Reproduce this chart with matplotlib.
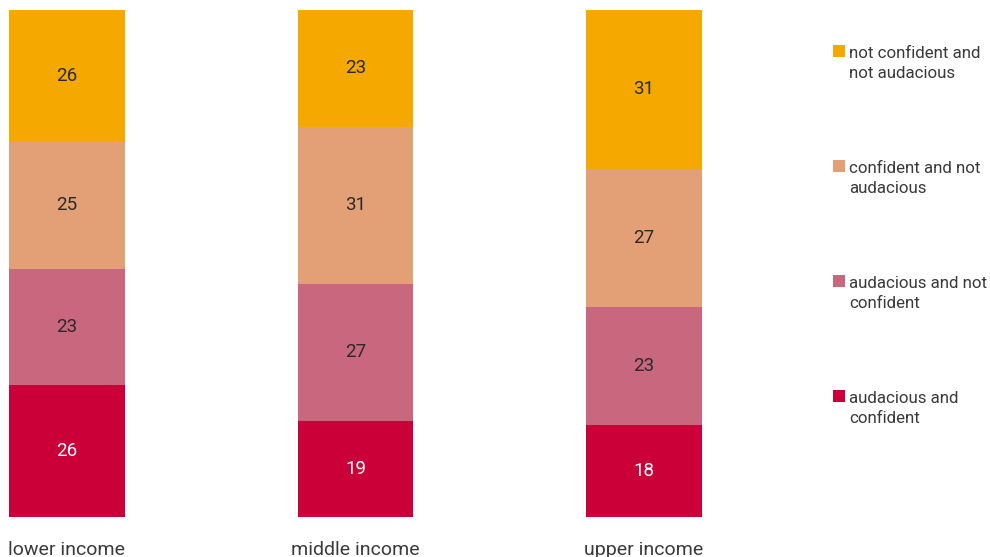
import numpy as np
import matplotlib.pyplot as plt
from matplotlib.patches import Rectangle

plt.rcParams['font.family'] = ['Roboto', 'DejaVu Sans']

groups = ['lower income', 'middle income', 'upper income']
series = ['audacious and\nconfident',
          'audacious and not\nconfident',
          'confident and not\naudacious',
          'not confident and\nnot audacious']
audacious_confident = [26, 19, 18]
audacious_not_confident = [23, 27, 23]
confident_not_audacious = [25, 31, 27]
not_confident_not_audacious = [26, 23, 31]
colors = ['#CC0038', '#C9677F', '#E3A076', '#F5A800']
text_colors = ['white', '#2a2a2a', '#2a2a2a', '#2a2a2a']

values = np.array([audacious_confident, audacious_not_confident,
                   confident_not_audacious, not_confident_not_audacious], dtype=float)
shares = values / values.sum(axis=0) * 100  # every bar fills 100%

fig = plt.figure(figsize=(9.9, 5.57), dpi=100)
W, H = 990, 557
ax = fig.add_axes([9 / W, (H - 517) / H, 693 / W, 507 / H])

x = np.arange(len(groups))
bottom = np.zeros(len(groups))
for i in range(len(series)):
    ax.bar(x, shares[i], bottom=bottom, width=0.402, color=colors[i], linewidth=0)
    for j in range(len(groups)):
        ax.text(x[j], bottom[j] + shares[i][j] / 2, '%d' % values[i][j],
                ha='center', va='center', fontsize=13.5, color=text_colors[i])
    bottom += shares[i]

ax.set_xlim(-0.201, 2.201)
ax.set_ylim(0, 100)
ax.set_xticks(x)
ax.set_xticklabels(groups, fontsize=14, color='#3a3a3a')
ax.tick_params(axis='x', length=0, pad=17)
ax.set_yticks([])
for s in ax.spines.values():
    s.set_visible(False)

# legend, top entry first
for k, i in enumerate(range(len(series) - 1, -1, -1)):
    ytop = 45 + k * 115
    fig.add_artist(Rectangle((833 / W, 1 - (ytop + 12) / H), 12 / W, 12 / H,
                             transform=fig.transFigure, color=colors[i], linewidth=0))
    fig.text(849 / W, 1 - (ytop + 1) / H, series[i], ha='left', va='top',
             fontsize=12.2, color='#3a3a3a', linespacing=1.38)

fig.savefig('out.png', dpi=100)
